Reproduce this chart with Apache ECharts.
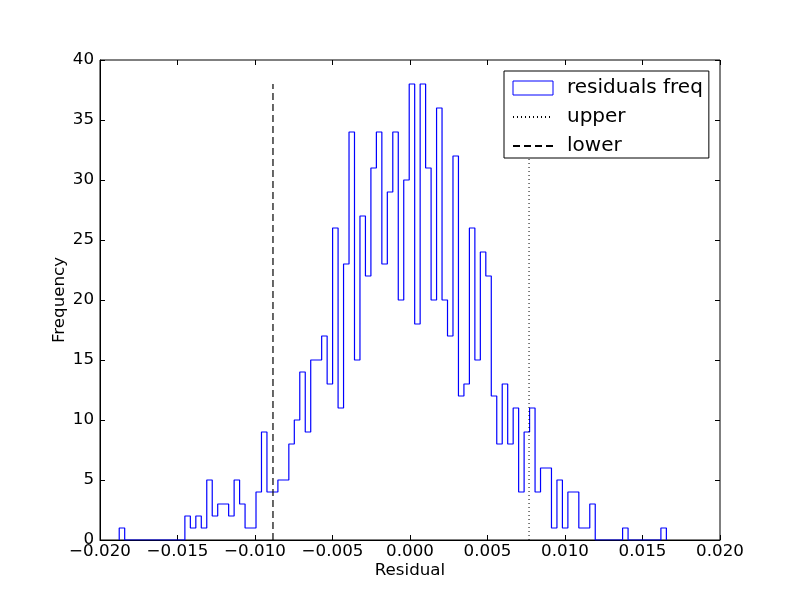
<!DOCTYPE html>
<html>
<head>
<meta charset="utf-8">
<title>Residual histogram</title>
<script src="https://cdn.jsdelivr.net/npm/echarts@6/dist/echarts.min.js"></script>
<style>
  html, body { margin: 0; padding: 0; background: #fff; }
  #chart { width: 800px; height: 600px; }
</style>
</head>
<body>
<div id="chart"></div>
<script>
// histogram: 100 bins, first bin left edge and bin width (residual units)
const binStart = -0.01876
const binWidth = 0.000353
const counts = [
  1, 0, 0, 0, 0, 0, 0, 0, 0, 0,
  0, 0, 2, 1, 2, 1, 5, 2, 3, 3,
  2, 5, 3, 1, 1, 4, 9, 4, 4, 5,
  5, 8, 10, 14, 9, 15, 15, 17, 13, 26,
  11, 23, 34, 15, 27, 22, 31, 34, 23, 29,
  34, 20, 30, 38, 18, 38, 31, 20, 36, 20,
  17, 32, 12, 13, 26, 15, 24, 22, 12, 8,
  13, 8, 11, 4, 9, 11, 4, 6, 6, 1,
  5, 1, 4, 4, 1, 1, 3, 0, 0, 0,
  0, 0, 1, 0, 0, 0, 0, 0, 0, 1
]
// vertical reference lines
const upperX = 0.00768
const lowerX = -0.00884
const lineTop = 38
const seriesNames = ['residuals freq', 'upper', 'lower']
const xTicks = { min: -0.02, max: 0.02, step: 0.005 }
const yTicks = { min: 0, max: 40, step: 5 }

const FONT = 'DejaVu Sans'

function stepPoints() {
  let pts = [[binStart, 0]]
  counts.forEach((c, i) => {
    pts.push([binStart + i * binWidth, c])
    pts.push([binStart + (i + 1) * binWidth, c])
  })
  pts.push([binStart + counts.length * binWidth, 0])
  return pts
}

function fmtX(v) {
  let s = v.toFixed(3)
  if (s === '-0.000') s = '0.000'
  return s.replace('-', '\u2212')
}

const tickStyle = { inside: true, length: 5, lineStyle: { color: '#000' } }
const labelStyle = { color: '#000', fontFamily: FONT, fontSize: 16.7 }
const hiddenSymbol = { color: 'transparent', borderWidth: 0, opacity: 0 }

let chart = echarts.init(document.getElementById('chart'), null, { renderer: 'canvas' })
let option = {
  animation: false,
  backgroundColor: '#fff',
  grid: {
    left: 100, right: 80, top: 60, bottom: 60,
    show: true, borderColor: '#000', borderWidth: 1, backgroundColor: '#fff'
  },
  legend: {
    orient: 'vertical',
    left: 504,
    top: 71,
    padding: [7, 6, 2, 8],
    itemWidth: 40,
    itemHeight: 14,
    itemGap: 9,
    backgroundColor: '#fff',
    borderColor: '#000',
    borderWidth: 1,
    borderRadius: 0,
    textStyle: { color: '#000', fontFamily: FONT, fontSize: 20, lineHeight: 20, padding: [0, 0, 0, 9] },
    data: [
      { name: seriesNames[0], icon: 'rect', itemStyle: { color: 'transparent', borderColor: '#0000ff', borderWidth: 1 } },
      { name: seriesNames[1], itemStyle: hiddenSymbol },
      { name: seriesNames[2], itemStyle: hiddenSymbol }
    ]
  },
  xAxis: [
    {
      type: 'value',
      min: xTicks.min, max: xTicks.max, interval: xTicks.step,
      name: 'Residual', nameLocation: 'middle', nameGap: 22, nameMoveOverlap: false,
      nameTextStyle: labelStyle,
      axisLine: { show: true, onZero: false, lineStyle: { color: '#000' } },
      axisTick: tickStyle,
      axisLabel: Object.assign({ margin: 3, formatter: fmtX }, labelStyle),
      splitLine: { show: false }
    },
    {
      type: 'value', position: 'top',
      min: xTicks.min, max: xTicks.max, interval: xTicks.step,
      axisLine: { show: false, onZero: false },
      axisTick: tickStyle,
      axisLabel: { show: false },
      splitLine: { show: false }
    }
  ],
  yAxis: [
    {
      type: 'value',
      min: yTicks.min, max: yTicks.max, interval: yTicks.step,
      name: 'Frequency', nameLocation: 'middle', nameGap: 32, nameMoveOverlap: false,
      nameTextStyle: labelStyle,
      axisLine: { show: true, onZero: false, lineStyle: { color: '#000' } },
      axisTick: tickStyle,
      axisLabel: Object.assign({ margin: 6 }, labelStyle),
      splitLine: { show: false }
    },
    {
      type: 'value', position: 'right',
      min: yTicks.min, max: yTicks.max, interval: yTicks.step,
      axisLine: { show: false, onZero: false },
      axisTick: tickStyle,
      axisLabel: { show: false },
      splitLine: { show: false }
    }
  ],
  series: [
    {
      name: seriesNames[0],
      type: 'line',
      data: stepPoints(),
      symbol: 'none',
      lineStyle: { color: '#0000ff', width: 1.2 },
      itemStyle: { color: '#0000ff' },
      z: 3
    },
    {
      name: seriesNames[1],
      type: 'line',
      data: [[upperX, 0], [upperX, lineTop]],
      symbol: 'none',
      lineStyle: { color: '#000', width: 1, type: [1, 3] },
      itemStyle: { color: '#000' }
    },
    {
      name: seriesNames[2],
      type: 'line',
      data: [[lowerX, 0], [lowerX, lineTop]],
      symbol: 'none',
      lineStyle: { color: '#000', width: 1.2, type: [7, 4] },
      itemStyle: { color: '#000' }
    }
  ]
}
chart.setOption(option)
</script>
</body>
</html>
